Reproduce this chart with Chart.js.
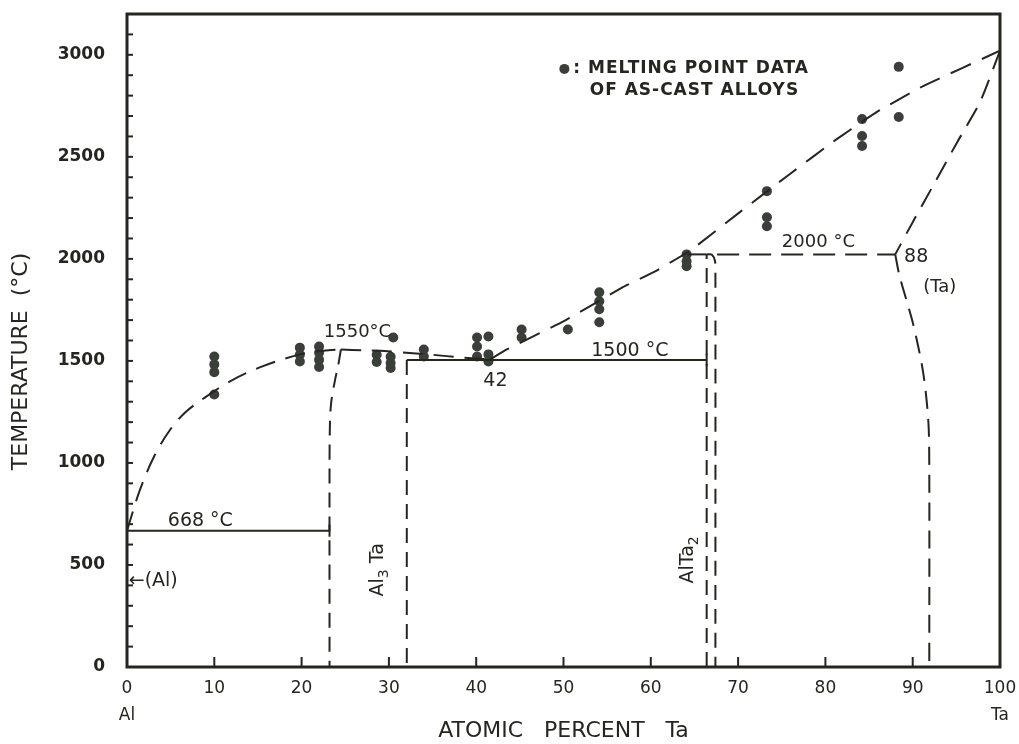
<!DOCTYPE html>
<html>
<head>
<meta charset="utf-8">
<script src="https://cdn.jsdelivr.net/npm/chart.js@4.4.1/dist/chart.umd.min.js"></script>
<style>
    html, body { margin: 0; padding: 0; background: #fff; }
    #wrap { width: 1019px; height: 744px; }
</style>
</head>
<body>
<div id="wrap"><canvas id="phaseChart" width="1019" height="744"></canvas></div>
<script>
// === DATA (atomic % Ta, temperature °C) ===
const liquidusAl = [[0, 668], [1.5, 870], [3.2, 1040], [4.9, 1160], [6.6, 1245], [8.9, 1320], [11.8, 1400], [15.2, 1468], [19.8, 1532], [22.5, 1550], [24.5, 1556]];
const liquidusMid = [[24.5, 1556], [27, 1552], [29.5, 1549], [32, 1540], [35, 1530], [38.2, 1517], [41.6, 1507]];
const liquidusTa = [[41.6, 1507], [43.5, 1556], [50, 1694], [56.8, 1861], [60.5, 1939], [64.5, 2040], [70.2, 2229], [75.9, 2415], [81.3, 2587], [85.9, 2720], [91.2, 2847], [100, 3020]];
const solidusTa = [[100, 3020], [97.7, 2767], [95.1, 2572], [92.3, 2356], [90, 2180], [88, 2022]];
const solvusTa = [[88, 2022], [88.5, 1915], [90, 1689], [91.2, 1443], [91.8, 1198], [91.9, 950], [91.9, 0]];
const al3taLeft = [[24.5, 1556], [24.2, 1480], [23.8, 1400], [23.4, 1300], [23.25, 1200], [23.2, 1000], [23.2, 0]];
const al3taRight = [[32.05, 1505], [32.05, 0]];
const alta2Left = [[66.4, 0], [66.4, 2022]];
const alta2Right = [[66.4, 2022], [67.0, 2020], [67.35, 1990], [67.4, 1950], [67.4, 0]];
const eutectic668 = [[0, 668], [23.2, 668], [23.2, 698], [23.2, 638]];
const peritectic1500 = [[32.05, 1505], [66.4, 1505], [66.4, 1535], [66.4, 1475]];
const peritectic2000Solid = [[64.2, 2022], [66.4, 2022]];
const peritectic2000 = [[67.6, 2022], [88, 2022]];

const meltX = [10, 10, 10, 10, 19.8, 19.8, 19.8, 22, 22, 22, 22, 28.6, 28.6, 30.2, 30.2, 30.2, 30.5, 34, 34,
    40.1, 40.1, 40.1, 41.4, 41.4, 41.4, 45.2, 45.2, 50.5, 54.1, 54.1, 54.1, 54.1, 64.1, 64.1, 64.1,
    73.3, 73.3, 73.3, 84.2, 84.2, 84.2, 88.4, 88.4];
const meltT = [1522, 1483, 1445, 1335, 1565, 1530, 1497, 1570, 1540, 1505, 1470, 1530, 1495, 1520, 1490, 1465, 1615, 1556, 1522,
    1615, 1571, 1522, 1620, 1532, 1497, 1654, 1615, 1654, 1836, 1792, 1753, 1689, 2022, 1988, 1964,
    2332, 2204, 2160, 2685, 2602, 2553, 2941, 2695];

const yLabels = [0, 500, 1000, 1500, 2000, 2500, 3000];

const ink = '#24261f';
const dotColor = '#3b3f39';
const FONT = 'DejaVu Sans';

// annotations on the diagram
const notes = [
    { text: '668 °C', x: 8.4, t: 717, align: 'center', size: 19 },
    { text: '1550°C', x: 26.4, t: 1640, align: 'center', size: 18 },
    { text: '1500 °C', x: 57.6, t: 1548, align: 'center', size: 19 },
    { text: '42', x: 42.2, t: 1399, align: 'center', size: 19 },
    { text: '2000 °C', x: 79.2, t: 2079, align: 'center', size: 18 },
    { text: '88', x: 90.4, t: 2008, align: 'center', size: 19 },
    { text: '(Ta)', x: 93.1, t: 1860, align: 'center', size: 18 },
    { text: '←(Al)', x: 0.2, t: 422, align: 'left', size: 19 },
];
const phaseLabels = [
    { runs: [['Al', false], ['3', true], [' Ta', false]], x: 28.8, t: 476 },
    { runs: [['AlTa', false], ['2', true]], x: 64.3, t: 525 },
];

const toXY = arr => arr.map(p => ({ x: p[0], y: p[1] }));

function lineSet(arr, dash, tension) {
    return {
        type: 'line',
        data: toXY(arr),
        borderColor: ink,
        borderWidth: 2,
        borderDash: dash || [],
        pointRadius: 0,
        fill: false,
        tension: tension || 0,
    };
}

// === PLUGIN: frame, inward ticks, notes ===
function drawRuns(ctx, runs, cx, cy, size) {
    const sub = Math.round(size * 0.75);
    let total = 0;
    runs.forEach(r => {
        ctx.font = `${r[1] ? sub : size}px ${FONT}`;
        total += ctx.measureText(r[0]).width;
    });
    ctx.save();
    ctx.translate(cx, cy);
    ctx.rotate(-Math.PI / 2);
    ctx.textBaseline = 'middle';
    ctx.textAlign = 'left';
    let x = -total / 2;
    runs.forEach(r => {
        ctx.font = `${r[1] ? sub : size}px ${FONT}`;
        ctx.fillText(r[0], x, r[1] ? size * 0.3 : 0);
        x += ctx.measureText(r[0]).width;
    });
    ctx.restore();
}

const decorPlugin = {
    id: 'decor',
    afterDatasetsDraw(chart) {
        const { ctx, chartArea: a, scales } = chart;
        const xs = scales.x, ys = scales.y;
        ctx.save();
        ctx.strokeStyle = ink;
        ctx.fillStyle = ink;

        // inward ticks
        ctx.lineWidth = 2;
        ys.ticks.forEach(tk => {
            if (tk.value <= 0 || tk.value >= ys.max) return;
            const py = ys.getPixelForValue(tk.value);
            ctx.beginPath(); ctx.moveTo(a.left, py); ctx.lineTo(a.left + 6, py); ctx.stroke();
        });
        xs.ticks.forEach(tk => {
            if (tk.value <= 0 || tk.value >= 100) return;
            const px = xs.getPixelForValue(tk.value);
            ctx.beginPath(); ctx.moveTo(px, a.bottom); ctx.lineTo(px, a.bottom - 10); ctx.stroke();
        });

        // frame
        ctx.lineWidth = 3;
        ctx.strokeRect(a.left, a.top, a.right - a.left, a.bottom - a.top);

        // notes
        ctx.textBaseline = 'middle';
        notes.forEach(n => {
            ctx.font = `${n.size}px ${FONT}`;
            ctx.textAlign = n.align;
            ctx.fillText(n.text, xs.getPixelForValue(n.x), ys.getPixelForValue(n.t));
        });
        phaseLabels.forEach(p => drawRuns(ctx, p.runs, xs.getPixelForValue(p.x), ys.getPixelForValue(p.t), 19));

        // legend
        const lx = xs.getPixelForValue(50.1), ly = ys.getPixelForValue(2931);
        ctx.fillStyle = dotColor;
        ctx.beginPath(); ctx.arc(lx, ly, 5, 0, Math.PI * 2); ctx.fill();
        ctx.fillStyle = ink;
        ctx.font = `bold 17px ${FONT}`;
        ctx.letterSpacing = '1px';
        ctx.textAlign = 'left';
        ctx.fillText(': MELTING POINT DATA', lx + 9, ly);
        ctx.fillText('OF AS-CAST ALLOYS', xs.getPixelForValue(53.0), ys.getPixelForValue(2823));
        ctx.restore();
    }
};

// === CHART ===
function createPhaseChart() {
    const ctx = document.getElementById('phaseChart').getContext('2d');
    const melt = meltX.map((x, i) => ({ x: x, y: meltT[i] }));

    new Chart(ctx, {
        type: 'scatter',
        data: {
            datasets: [
                lineSet(liquidusAl, [20, 11], 0.35),
                lineSet(liquidusMid, [20, 11], 0.2),
                lineSet(liquidusTa, [22, 12], 0.1),
                lineSet(solidusTa, [20, 11], 0.2),
                lineSet(solvusTa, [18, 10], 0.3),
                lineSet(al3taLeft, [15, 9], 0.3),
                lineSet(al3taRight, [15, 9]),
                lineSet(alta2Left, [15, 9]),
                lineSet(alta2Right, [15, 9], 0.3),
                lineSet(eutectic668),
                lineSet(peritectic1500),
                lineSet(peritectic2000Solid),
                lineSet(peritectic2000, [22, 10]),
                {
                    type: 'scatter',
                    data: melt,
                    pointRadius: 5,
                    pointBackgroundColor: dotColor,
                    pointBorderColor: dotColor,
                    pointBorderWidth: 0,
                },
            ]
        },
        options: {
            responsive: false,
            animation: false,
            devicePixelRatio: 1,
            layout: { padding: { top: 14, right: 19, left: 0, bottom: 0 } },
            plugins: { legend: { display: false }, tooltip: { enabled: false } },
            scales: {
                x: {
                    type: 'linear',
                    min: 0,
                    max: 100,
                    afterFit: s => { s.height = 77; s.paddingLeft = 0; s.paddingRight = 0; },
                    grid: { display: false },
                    border: { display: false },
                    ticks: {
                        stepSize: 10,
                        autoSkip: false,
                        maxRotation: 0,
                        padding: 0,
                        color: ink,
                        font: { family: FONT, size: 17, lineHeight: 1.6 },
                        callback: v => v === 0 ? ['0', 'Al'] : v === 100 ? ['100', 'Ta'] : String(v),
                    },
                    title: {
                        display: true,
                        text: 'ATOMIC   PERCENT   Ta',
                        color: ink,
                        font: { family: FONT, size: 22 },
                        padding: { top: 0, bottom: 0 },
                    },
                },
                y: {
                    min: 0,
                    max: 3200,
                    afterFit: s => { s.width = 127; s.paddingTop = 0; s.paddingBottom = 0; },
                    grid: { display: false },
                    border: { display: false },
                    ticks: {
                        stepSize: 100,
                        autoSkip: false,
                        padding: 14,
                        color: ink,
                        font: { family: FONT, size: 17, weight: 'bold' },
                        callback: v => yLabels.includes(v) ? String(v) : '',
                    },
                    title: {
                        display: true,
                        // trailing spaces push the title a little lower, as in the original
                        text: 'TEMPERATURE  (°C)      ',
                        color: ink,
                        font: { family: FONT, size: 22 },
                        padding: { top: 8, bottom: 0 },
                    },
                },
            },
        },
        plugins: [decorPlugin],
    });
}

createPhaseChart();
</script>
</body>
</html>
